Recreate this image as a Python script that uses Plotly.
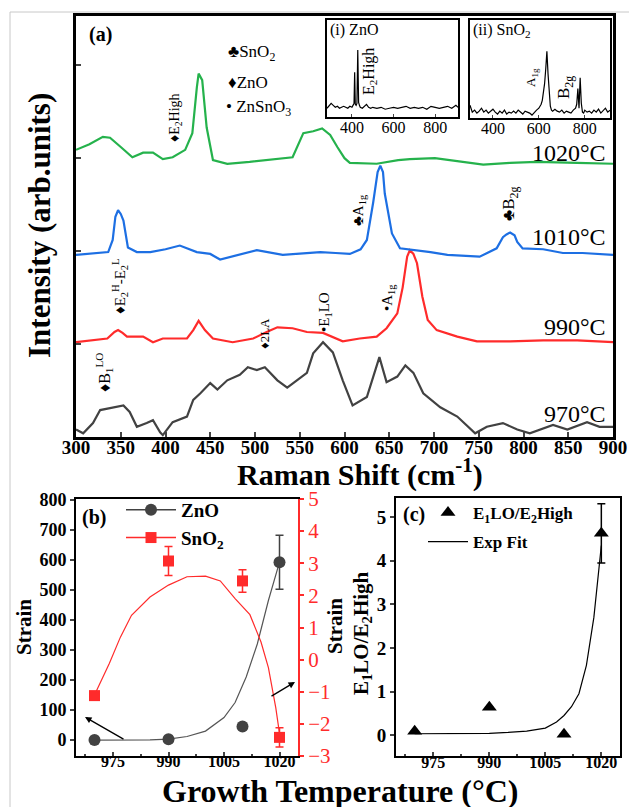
import plotly.graph_objects as go

W, H = 629, 807
SERIF = "Liberation Serif"


def px(x):
    return x / W


def py(y):
    return 1 - y / H


# ---------------- Panel (a): Raman spectra ----------------
g1020_x = [300, 315, 330, 338, 350, 363, 375, 386, 397, 408, 422, 430, 435, 437, 441, 446, 453, 469, 494, 528,
           542, 554, 565, 575, 584, 592, 600, 606, 636, 660, 673, 701, 729, 755, 785, 815, 860, 900]
g1020_y = [3.09, 3.15, 3.23, 3.22, 3.12, 3.01, 3.06, 3.06, 2.99, 3.01, 3.09, 3.27, 3.76, 3.91, 3.84, 3.33, 2.98,
           2.94, 2.96, 2.99, 3.01, 3.27, 3.29, 3.32, 3.25, 3.12, 3.0, 2.95, 2.94, 2.98, 2.99, 3.0, 2.96, 2.93,
           2.95, 2.96, 2.95, 2.94]

b1010_x = [300, 320, 336, 341, 344, 347, 350, 353, 358, 368, 383, 400, 416, 435, 450, 461, 483, 502, 531, 558,
           573, 590, 606, 618, 625, 632, 637, 640, 643, 645, 653, 662, 680, 696, 715, 751, 770, 777, 781, 785,
           790, 793, 799, 822, 844, 866, 900]
b1010_y = [1.96, 1.98, 1.99, 2.12, 2.37, 2.44, 2.40, 2.33, 2.04, 1.99, 1.99, 2.02, 2.06, 1.99, 1.97, 1.91, 1.96,
           2.01, 1.96, 1.98, 1.99, 1.98, 1.97, 2.02, 2.12, 2.52, 2.85, 2.92, 2.85, 2.62, 2.19, 2.03, 2.01, 1.99,
           1.96, 1.94, 2.03, 2.15, 2.18, 2.20, 2.17, 2.10, 2.03, 2.02, 1.98, 1.98, 1.96]

r990_x = [300, 320, 335, 343, 347, 352, 357, 375, 386, 397, 424, 431, 437, 444, 453, 475, 498, 513, 525, 542,
          558, 576, 592, 598, 617, 636, 647, 659, 665, 670, 673, 677, 681, 687, 693, 703, 726, 748, 785, 822,
          860, 900]
r990_y = [1.02, 1.04, 1.06, 1.13, 1.15, 1.12, 1.08, 1.08, 1.02, 1.06, 1.06, 1.15, 1.25, 1.15, 1.06, 1.02, 1.06,
          1.13, 1.18, 1.17, 1.13, 1.12, 1.06, 1.03, 1.06, 1.08, 1.17, 1.33, 1.61, 1.94, 2.01, 1.97, 1.87, 1.51,
          1.26, 1.15, 1.08, 1.03, 1.03, 1.04, 1.04, 1.02]

k970_x = [300, 308, 319, 327, 338, 353, 360, 368, 379, 386, 394, 397, 408, 424, 431, 439, 450, 458, 469, 483,
          492, 502, 511, 525, 536, 550, 558, 565, 576, 587, 598, 609, 625, 639, 647, 659, 668, 677, 688, 707,
          726, 746, 759, 777, 793, 807, 833, 849, 871, 885, 900]
k970_y = [0.08, 0.04, 0.15, 0.29, 0.31, 0.34, 0.27, 0.11, 0.15, 0.18, 0.05, 0.02, 0.16, 0.22, 0.40, 0.47, 0.58,
          0.51, 0.61, 0.67, 0.75, 0.72, 0.75, 0.61, 0.53, 0.63, 0.69, 0.90, 1.02, 0.91, 0.61, 0.34, 0.43, 0.86,
          0.59, 0.65, 0.77, 0.69, 0.47, 0.32, 0.22, 0.04, 0.11, 0.15, 0.08, 0.04, 0.13, 0.08, 0.16, 0.11, 0.11]

raman_ticks = [300, 350, 400, 450, 500, 550, 600, 650, 700, 750, 800, 850, 900]

# Inset (i) ZnO reference spectrum
zno_ref_x = [280, 290, 300, 310, 320, 330, 340, 350, 360, 370, 380, 390, 400, 405, 410, 413, 416, 420, 424, 428,
             432, 436, 440, 450, 460, 470, 480, 490, 500, 520, 540, 560, 580, 600, 620, 640, 660, 680, 700, 720,
             740, 760, 780, 800, 820, 840, 860, 880, 900, 910]
zno_ref_y = [0.09, 0.11, 0.14, 0.12, 0.10, 0.11, 0.09, 0.10, 0.11, 0.10,
             0.09, 0.11, 0.10, 0.12, 0.14, 0.46, 0.13, 0.12, 0.14, 0.69,
             0.15, 0.12, 0.10, 0.09, 0.11, 0.13, 0.10, 0.09, 0.10, 0.09,
             0.10, 0.08, 0.09, 0.10, 0.09, 0.10, 0.11, 0.09, 0.10, 0.09,
             0.10, 0.08, 0.11, 0.10, 0.09, 0.10, 0.11, 0.09, 0.12, 0.10]

# Inset (ii) SnO2 reference spectrum
sno2_ref_x = [300, 310, 320, 330, 340, 350, 360, 370, 380, 390,
              400, 410, 420, 430, 440, 450, 460, 470, 480, 490,
              500, 510, 520, 530, 540, 550, 560, 570, 580, 590, 600, 610,
              615, 620, 625, 630, 635, 640, 645, 650, 655, 660,
              670, 680, 690, 700, 710, 720, 730, 740, 750, 760,
              765, 770, 775, 780, 785, 790, 795, 800,
              810, 820, 830, 840, 850, 860, 870, 880, 890, 900, 910]
sno2_ref_y = [0.13, 0.06, 0.08, 0.05, 0.07, 0.10, 0.06, 0.08, 0.05, 0.07,
              0.09, 0.06, 0.04, 0.07, 0.05, 0.08, 0.04, 0.06, 0.05, 0.07,
              0.05, 0.08, 0.06, 0.04, 0.07, 0.06, 0.05, 0.03, 0.06, 0.08, 0.10, 0.14,
              0.18, 0.26, 0.35, 0.50, 0.68, 0.45, 0.22, 0.12, 0.08, 0.07,
              0.09, 0.07, 0.06, 0.08, 0.05, 0.07, 0.06, 0.05, 0.08, 0.10,
              0.14, 0.30, 0.10, 0.41, 0.15, 0.06, 0.05, 0.08,
              0.06, 0.07, 0.05, 0.08, 0.06, 0.09, 0.05, 0.07, 0.10, 0.06, 0.08]
inset_ticks = [400, 600, 800]

# ---------------- Panel (b): strain ----------------
temps = [970, 990, 1010, 1020]
zno_strain = [0, 3, 45, 592]
zno_strain_err = [0, 0, 0, 90]
sno2_strain = [-1.12, 3.07, 2.45, -2.42]
sno2_strain_err = [0.1, 0.45, 0.35, 0.3]
zno_fit_t = [970, 975, 980, 985, 990, 995, 1000, 1005, 1008, 1011, 1014, 1017, 1020]
zno_fit_y = [0, 0, 0, 1, 3, 12, 30, 75, 125, 210, 320, 465, 593]
sno2_fit_t = [970, 974, 977, 980, 985, 990, 995, 1000, 1004, 1008, 1012, 1015, 1017, 1019, 1020]
sno2_fit_y = [-1.1, -0.12, 0.7, 1.38, 1.95, 2.32, 2.58, 2.6, 2.45, 1.9, 1.4, 0.55, -0.25, -1.5, -2.3]
temp_ticks = [975, 990, 1005, 1020]

# ---------------- Panel (c): E1LO/E2High ratio ----------------
ratio = [0.09, 0.64, 0.02, 4.63]
ratio_err = [0, 0, 0, 0.68]
exp_fit_t = [970, 980, 990, 995, 1000, 1005, 1008, 1010, 1012, 1014, 1016, 1018, 1020]
exp_fit_y = [0.03, 0.03, 0.04, 0.06, 0.09, 0.16, 0.3, 0.45, 0.65, 0.95, 1.6, 2.7, 4.35]

GREEN = "#25b24c"
BLUE = "#1d6fe3"
RED = "#ff2b2b"
GRAY = "#424242"

fig = go.Figure()

for xs, ys, col in [(k970_x, k970_y, GRAY), (r990_x, r990_y, RED),
                    (b1010_x, b1010_y, BLUE), (g1020_x, g1020_y, GREEN)]:
    fig.add_trace(go.Scatter(x=xs, y=ys, mode="lines", line=dict(color=col, width=2.2),
                             xaxis="x", yaxis="y", showlegend=False))

fig.add_trace(go.Scatter(x=zno_ref_x, y=zno_ref_y, mode="lines", line=dict(color="black", width=1.2),
                         xaxis="x2", yaxis="y2", showlegend=False))
fig.add_trace(go.Scatter(x=sno2_ref_x, y=sno2_ref_y, mode="lines", line=dict(color="black", width=1.2),
                         xaxis="x3", yaxis="y3", showlegend=False))

# Panel (b)
fig.add_trace(go.Scatter(x=zno_fit_t, y=zno_fit_y, mode="lines", line=dict(color="#555555", width=1.2),
                         xaxis="x4", yaxis="y4", showlegend=False))
fig.add_trace(go.Scatter(x=temps, y=zno_strain, mode="markers",
                         marker=dict(symbol="circle", size=12, color=GRAY),
                         error_y=dict(type="data", array=zno_strain_err, color=GRAY, thickness=1.5, width=4),
                         xaxis="x4", yaxis="y4", showlegend=False))
fig.add_trace(go.Scatter(x=sno2_fit_t, y=sno2_fit_y, mode="lines", line=dict(color=RED, width=1.2),
                         xaxis="x4", yaxis="y5", showlegend=False))
fig.add_trace(go.Scatter(x=temps, y=sno2_strain, mode="markers",
                         marker=dict(symbol="square", size=11, color=RED),
                         error_y=dict(type="data", array=sno2_strain_err, color=RED, thickness=1.5, width=4),
                         xaxis="x4", yaxis="y5", showlegend=False))
# legend entries (b)
fig.add_trace(go.Scatter(x=[None], y=[None], mode="lines+markers", name="<b>ZnO</b>",
                         line=dict(color=GRAY, width=1.5), marker=dict(symbol="circle", size=12, color=GRAY),
                         xaxis="x4", yaxis="y4", legend="legend", legendgroup="g1"))
fig.add_trace(go.Scatter(x=[None], y=[None], mode="lines+markers", name="<b>SnO<sub>2</sub></b>",
                         line=dict(color=RED, width=1.5), marker=dict(symbol="square", size=11, color=RED),
                         xaxis="x4", yaxis="y5", legend="legend", legendgroup="g2"))

# Panel (c)
fig.add_trace(go.Scatter(x=temps, y=ratio, mode="markers", name="<b>E<sub>1</sub>LO/E<sub>2</sub>High</b>",
                         marker=dict(symbol="triangle-up", size=13, color="black"),
                         error_y=dict(type="data", array=ratio_err, color="black", thickness=1.5, width=4),
                         xaxis="x6", yaxis="y6", legend="legend2", legendgroup="h1"))
fig.add_trace(go.Scatter(x=exp_fit_t, y=exp_fit_y, mode="lines", name="<b>Exp Fit</b>",
                         line=dict(color="black", width=1.2),
                         xaxis="x6", yaxis="y6", legend="legend2", legendgroup="h2"))

axfont = dict(family=SERIF, size=19, color="black", weight="bold")

layout = dict(
    width=W, height=H, margin=dict(l=0, r=0, t=0, b=0, autoexpand=False),
    paper_bgcolor="white", plot_bgcolor="white",
    font=dict(family=SERIF, color="black"),
    # panel (a)
    xaxis=dict(domain=[px(76), px(613)], anchor="y", range=[300, 900], tickvals=raman_ticks,
               ticks="inside", ticklen=5, tickwidth=2, showline=True, linewidth=3, linecolor="black",
               mirror=True, showgrid=False, zeroline=False, tickfont=axfont, ticklabelstandoff=-9),
    yaxis=dict(domain=[py(437), py(16)], anchor="x", range=[0, 4.53], dtick=1, tick0=0,
               ticks="inside", ticklen=5, tickwidth=2, showticklabels=False, showline=True, linewidth=3,
               linecolor="black", mirror=True, showgrid=False, zeroline=False),
    # inset (i)
    xaxis2=dict(domain=[px(327), px(458)], anchor="y2", range=[280, 910], tickvals=inset_ticks,
                ticks="inside", ticklen=3, showline=True, linewidth=2, linecolor="black", mirror=True,
                showgrid=False, zeroline=False, ticklabelstandoff=-5,
                tickfont=dict(family=SERIF, size=16, color="black")),
    yaxis2=dict(domain=[py(117), py(20)], anchor="x2", range=[0, 1], showticklabels=False, ticks="",
                showline=True, linewidth=2, linecolor="black", mirror=True, showgrid=False, zeroline=False),
    # inset (ii)
    xaxis3=dict(domain=[px(470), px(610)], anchor="y3", range=[300, 910], tickvals=inset_ticks,
                ticks="inside", ticklen=3, showline=True, linewidth=2, linecolor="black", mirror=True,
                showgrid=False, zeroline=False, ticklabelstandoff=-5,
                tickfont=dict(family=SERIF, size=16, color="black")),
    yaxis3=dict(domain=[py(118), py(20)], anchor="x3", range=[0, 1], showticklabels=False, ticks="",
                showline=True, linewidth=2, linecolor="black", mirror=True, showgrid=False, zeroline=False),
    # panel (b)
    xaxis4=dict(domain=[px(76), px(298)], anchor="y4", range=[965, 1025], tickvals=temp_ticks,
                ticks="inside", ticklen=4, tickwidth=1.5, showline=True, linewidth=2, linecolor="black",
                mirror=True, showgrid=False, zeroline=False, ticklabelstandoff=-10,
                tickfont=dict(family=SERIF, size=16, color="black", weight="bold"),
                minor=dict(ticks="inside", ticklen=2, dtick=7.5)),
    yaxis4=dict(domain=[py(756), py(499)], anchor="x4", range=[-53, 803], dtick=100, tick0=0,
                ticks="outside", ticklen=4, tickwidth=1.5, showline=True, linewidth=2, linecolor="black",
                showgrid=False, zeroline=False,
                tickfont=dict(family=SERIF, size=18, color="black", weight="bold")),
    yaxis5=dict(overlaying="y4", anchor="x4", side="right", range=[-3, 5], dtick=1, tick0=0,
                ticks="outside", ticklen=4, tickwidth=1.5, tickcolor=RED, showline=True, linewidth=2,
                linecolor=RED, showgrid=False, zeroline=False,
                tickfont=dict(family=SERIF, size=21, color=RED)),
    # panel (c)
    xaxis6=dict(domain=[px(396), px(620)], anchor="y6", range=[965, 1025], tickvals=temp_ticks,
                ticks="inside", ticklen=4, tickwidth=1.5, showline=True, linewidth=2, linecolor="black",
                mirror=True, showgrid=False, zeroline=False, ticklabelstandoff=-9,
                tickfont=dict(family=SERIF, size=16, color="black", weight="bold"),
                minor=dict(ticks="inside", ticklen=2, dtick=7.5)),
    yaxis6=dict(domain=[py(756), py(498)], anchor="x6", range=[-0.48, 5.44], dtick=1, tick0=0,
                ticks="outside", ticklen=4, tickwidth=1.5, showline=True, linewidth=2, linecolor="black",
                mirror=True, showgrid=False, zeroline=False,
                tickfont=dict(family=SERIF, size=19, color="black", weight="bold")),
    legend=dict(x=px(121), y=py(491), xanchor="left", yanchor="top", bgcolor="rgba(0,0,0,0)",
                font=dict(family=SERIF, size=19, color="black"), itemwidth=50, tracegroupgap=0,
                traceorder="grouped"),
    legend2=dict(x=px(423), y=py(495), xanchor="left", yanchor="top", bgcolor="rgba(0,0,0,0)",
                 font=dict(family=SERIF, size=17, color="black"), itemwidth=40, tracegroupgap=4,
                 traceorder="grouped"),
)
fig.update_layout(**layout)


def ann(text, x, y, size, angle=0, bold=False, color="black", xanchor="center"):
    return dict(text=("<b>%s</b>" % text) if bold else text, x=px(x), y=py(y), xref="paper", yref="paper",
                showarrow=False, textangle=angle, xanchor=xanchor, yanchor="middle",
                font=dict(family=SERIF, size=size, color=color))


annotations = [
    ann("Intensity (arb.units)", 40, 226, 31, angle=-90, bold=True),
    ann("Raman Shift (cm<sup>-1</sup>)", 360, 472, 30, bold=True),
    ann("Growth Temperature (°C)", 340, 791, 32, bold=True),
    ann("(a)", 100, 35, 20, bold=True),
    ann("♣SnO<sub>2</sub>", 226, 53, 17, xanchor="left"),
    ann("♦ZnO", 226, 82, 17, xanchor="left"),
    ann("• ZnSnO<sub>3</sub>", 224, 108, 17, xanchor="left"),
    ann("1020°C", 608, 153, 24, xanchor="right"),
    ann("1010°C", 608, 237, 24, xanchor="right"),
    ann("990°C", 608, 327, 24, xanchor="right"),
    ann("970°C", 608, 414, 24, xanchor="right"),
    ann("♦E<sub>2</sub>High", 175, 117, 14, angle=-90),
    ann("♣A<sub>1g</sub>", 359, 210, 15, angle=-90),
    ann("♣B<sub>2g</sub>", 510, 204, 17, angle=-90),
    ann("♦E<sub>2</sub><sup>H</sup>-E<sub>2</sub><sup>L</sup>", 120, 286, 15, angle=-90),
    ann("♦2LA", 265, 334, 13, angle=-90),
    ann("•E<sub>1</sub>LO", 325, 312, 15, angle=-90),
    ann("•A<sub>1g</sub>", 388, 298, 15, angle=-90),
    ann("♦B<sub>1</sub><sup>LO</sup>", 104, 372, 16, angle=-90),
    ann("(i) ZnO", 328, 30, 16, xanchor="left"),
    ann("(ii) SnO<sub>2</sub>", 471, 30, 16, xanchor="left"),
    ann("E<sub>2</sub>High", 370, 72, 16, angle=-90),
    ann("A<sub>1g</sub>", 532, 78, 13, angle=-90),
    ann("B<sub>2g</sub>", 565, 88, 17, angle=-90),
    ann("(b)", 94, 517, 20, bold=True),
    ann("Strain", 24, 627, 21, angle=-90, bold=True),
    ann("Strain", 335, 626, 21, angle=-90, bold=True),
    ann("(c)", 414, 514, 20, bold=True),
    ann("E<sub>1</sub>LO/E<sub>2</sub>High", 362, 633, 21, angle=-90, bold=True),
]
annotations.append(dict(x=px(85), y=py(717), xref="paper", yref="paper", text="", showarrow=True,
                        ax=40, ay=23, arrowhead=2, arrowsize=1, arrowwidth=1.3, arrowcolor="black"))
annotations.append(dict(x=px(295), y=py(682), xref="paper", yref="paper", text="", showarrow=True,
                        ax=-25, ay=15, arrowhead=2, arrowsize=1, arrowwidth=1.3, arrowcolor="black"))
fig.update_layout(annotations=annotations)

fig.update_layout(shapes=[dict(type="rect", xref="paper", yref="paper", x0=px(10), x1=1.05, y0=-0.05,
                               y1=py(12), line=dict(color="#c8c8c8", width=1), layer="below")])

fig.write_html("out.html")
